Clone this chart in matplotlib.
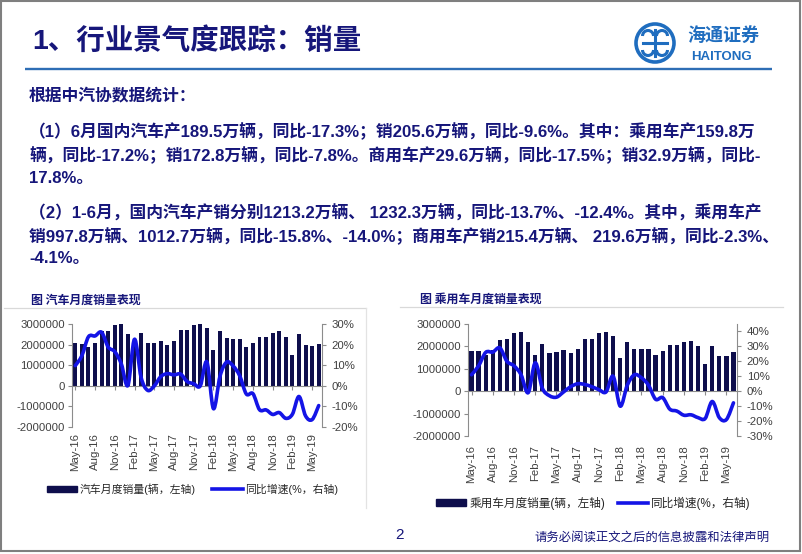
import matplotlib
matplotlib.use("Agg")
import matplotlib.pyplot as plt
from matplotlib.path import Path
from matplotlib.patches import PathPatch, Circle, Arc, Rectangle, Patch
from matplotlib.lines import Line2D
from matplotlib.ticker import FuncFormatter

# ---------------- data ----------------
months = ["May-16", "Jun-16", "Jul-16", "Aug-16", "Sep-16", "Oct-16", "Nov-16", "Dec-16",
          "Jan-17", "Feb-17", "Mar-17", "Apr-17", "May-17", "Jun-17", "Jul-17", "Aug-17",
          "Sep-17", "Oct-17", "Nov-17", "Dec-17", "Jan-18", "Feb-18", "Mar-18", "Apr-18",
          "May-18", "Jun-18", "Jul-18", "Aug-18", "Sep-18", "Oct-18", "Nov-18", "Dec-18",
          "Jan-19", "Feb-19", "Mar-19", "Apr-19", "May-19", "Jun-19"]

auto_sales = [2070000, 2050000, 1870000, 2070000, 2650000, 2650000, 2930000, 3000000,
              2520000, 1940000, 2550000, 2080000, 2100000, 2170000, 1970000, 2180000,
              2700000, 2700000, 2970000, 3000000, 2800000, 1720000, 2650000, 2300000,
              2280000, 2280000, 1900000, 2100000, 2380000, 2380000, 2550000, 2660000,
              2370000, 1480000, 2520000, 1980000, 1910000, 2050000]
auto_yoy = [0.098, 0.146, 0.238, 0.242, 0.260, 0.188, 0.166, 0.106,
            0.002, 0.226, 0.041, -0.022, -0.001, 0.045, 0.059, 0.053,
            0.057, 0.021, 0.010, 0.000, 0.116, -0.111, 0.047, 0.115,
            0.096, 0.048, -0.040, -0.038, -0.116, -0.117, -0.139, -0.130,
            -0.158, -0.138, -0.052, -0.146, -0.164, -0.096]

pv_sales = [1800000, 1800000, 1600000, 1830000, 2270000, 2350000, 2580000, 2650000,
            2200000, 1620000, 2100000, 1720000, 1750000, 1820000, 1690000, 1870000,
            2350000, 2350000, 2580000, 2650000, 2450000, 1480000, 2180000, 1900000,
            1900000, 1870000, 1600000, 1800000, 2060000, 2060000, 2180000, 2250000,
            2030000, 1200000, 2030000, 1580000, 1560000, 1730000]
pv_yoy = [0.110, 0.170, 0.260, 0.262, 0.290, 0.200, 0.170, 0.110,
          -0.010, 0.190, 0.020, -0.030, -0.040, -0.005, 0.030, 0.050,
          0.045, 0.030, 0.010, -0.005, 0.100, -0.100, 0.040, 0.110,
          0.090, 0.040, -0.054, -0.043, -0.120, -0.133, -0.161, -0.158,
          -0.177, -0.183, -0.069, -0.177, -0.190, -0.078]

tick_idx = list(range(0, 38, 3))
left_ticks = [-2000000, -1000000, 0, 1000000, 2000000, 3000000]
right_ticks1 = [-0.2, -0.1, 0.0, 0.1, 0.2, 0.3]
right_ticks2 = [-0.3, -0.2, -0.1, 0.0, 0.1, 0.2, 0.3, 0.4]

title = "1、行业景气度跟踪：销量"
body_lines = [
    "根据中汽协数据统计：",
    "（1）6月国内汽车产189.5万辆，同比-17.3%；销205.6万辆，同比-9.6%。其中：乘用车产159.8万",
    "辆，同比-17.2%；销172.8万辆，同比-7.8%。商用车产29.6万辆，同比-17.5%；销32.9万辆，同比-",
    "17.8%。",
    "（2）1-6月，国内汽车产销分别1213.2万辆、 1232.3万辆，同比-13.7%、-12.4%。其中，乘用车产",
    "销997.8万辆、1012.7万辆，同比-15.8%、-14.0%；商用车产销215.4万辆、 219.6万辆，同比-2.3%、",
    "-4.1%。",
]
body_y = [95, 131, 155, 178, 213, 236, 258]

W, H = 802, 554
CJK = ["Liberation Sans", "Noto Sans CJK SC"]
NAVY = "#16167a"
BAR = "#0e0e4c"
LINE = "#1414e6"
TICKC = "#404040"
AXC = "#8c8c8c"

fig = plt.figure(figsize=(W / 100, H / 100), dpi=100)
fig.patch.set_facecolor("white")

bg = fig.add_axes([0, 0, 1, 1], zorder=0)
bg.set_xlim(0, W)
bg.set_ylim(H, 0)
bg.axis("off")

# slide frame
bg.add_patch(Rectangle((1, 1), W - 3, H - 4, fill=False, edgecolor="#7f7f7f", lw=1.5))
# header
bg.text(32, 41, title, fontsize=20.5, fontweight="bold", color=NAVY, family=CJK,
        va="center", ha="left")
bg.plot([25, 772], [69, 69], color="#2e6eb5", lw=1.7, solid_capstyle="butt")

# logo
lc = "#1f6dbf"
bg.add_patch(Circle((655, 43), 19, fill=False, edgecolor=lc, lw=2.6))
for (cx, cy, t1, t2) in [(648, 36, 180, 360), (662, 36, 180, 360),
                         (648, 50, 0, 180), (662, 50, 0, 180)]:
    bg.add_patch(Arc((cx, cy), 11, 11, theta1=t1, theta2=t2, edgecolor=lc, lw=2.2))
bg.plot([655, 655], [30, 56], color=lc, lw=2.2)
bg.plot([643, 667], [43, 43], color=lc, lw=2.2)
bg.text(723, 35, "海通证券", fontsize=13, fontweight="bold", color=lc,
        family=["Noto Sans CJK SC"], ha="center", va="center")
bg.text(722, 57, "HAITONG", fontsize=9.5, fontweight="bold", color=lc,
        family=["Liberation Sans"], ha="center", va="center")

# body text
for s, y in zip(body_lines, body_y):
    bg.text(29, y, s, fontsize=12.1, fontweight="bold", color=NAVY, family=CJK,
            ha="left", va="center")

# chart titles and frames
bg.text(31, 300, "图 汽车月度销量表现", fontsize=8.6, fontweight="bold", color=NAVY,
        family=["Noto Sans CJK SC"], ha="left", va="center")
bg.text(420, 299, "图 乘用车月度销量表现", fontsize=8.6, fontweight="bold", color=NAVY,
        family=["Noto Sans CJK SC"], ha="left", va="center")
bg.plot([4, 366], [308, 308], color="#d9d9d9", lw=0.9)
bg.plot([366, 366], [308, 508], color="#e3e3e3", lw=0.9)
bg.plot([400, 783], [307, 307], color="#d9d9d9", lw=0.9)

# footer
bg.text(400, 535, "2", fontsize=11, color=NAVY, family=["Liberation Sans"],
        ha="center", va="center")
bg.text(534, 537, "请务必阅读正文之后的信息披露和法律声明", fontsize=8.9, color=NAVY,
        family=["Noto Sans CJK SC"], ha="left", va="center")


def smooth_patch(xs, ys, color, lw):
    n = len(xs)
    verts = [(xs[0], ys[0])]
    codes = [Path.MOVETO]
    for i in range(n - 1):
        a = i - 1 if i > 0 else i
        d = i + 2 if i + 2 < n else i + 1
        c1 = (xs[i] + (xs[i + 1] - xs[a]) / 6.0, ys[i] + (ys[i + 1] - ys[a]) / 6.0)
        c2 = (xs[i + 1] - (xs[d] - xs[i]) / 6.0, ys[i + 1] - (ys[d] - ys[i]) / 6.0)
        verts += [c1, c2, (xs[i + 1], ys[i + 1])]
        codes += [Path.CURVE4] * 3
    return PathPatch(Path(verts, codes), fill=False, edgecolor=color, lw=lw,
                     capstyle="round", joinstyle="round")


def make_chart(rect, sales, yoy, rlim, rticks, pad_pt, leg_label, leg_anchor, col_sp,
               leg_size):
    ax = fig.add_axes(rect, zorder=2)
    ax.set_facecolor("none")
    x = list(range(len(sales)))
    ax.bar(x, sales, width=0.6, color=BAR, zorder=2)
    ax.set_xlim(-0.5, len(sales) - 0.5)
    ax.set_ylim(-2000000, 3000000)
    ax.set_yticks(left_ticks)
    ax.yaxis.set_major_formatter(FuncFormatter(lambda v, p: "%d" % v))
    ax.set_xticks(tick_idx)
    ax.set_xticklabels([months[i] for i in tick_idx])
    for s in ["top", "right"]:
        ax.spines[s].set_visible(False)
    ax.spines["bottom"].set_position(("data", 0))
    ax.spines["bottom"].set_color(AXC)
    ax.spines["left"].set_color(AXC)
    ax.spines["bottom"].set_linewidth(0.8)
    ax.spines["left"].set_linewidth(0.8)
    ax.tick_params(axis="x", length=3, color=AXC, pad=pad_pt, labelsize=8.2,
                   labelcolor=TICKC, labelrotation=90)
    ax.tick_params(axis="y", length=3, color=AXC, labelsize=8.2, labelcolor=TICKC, pad=2)
    for lab in ax.get_xticklabels() + ax.get_yticklabels():
        lab.set_family("Liberation Sans")

    axr = ax.twinx()
    axr.set_zorder(3)
    axr.set_facecolor("none")
    axr.set_ylim(*rlim)
    axr.set_yticks(rticks)
    axr.yaxis.set_major_formatter(FuncFormatter(lambda v, p: "%d%%" % round(v * 100)))
    for s in ["top", "left", "bottom"]:
        axr.spines[s].set_visible(False)
    axr.spines["right"].set_color(AXC)
    axr.spines["right"].set_linewidth(0.8)
    axr.tick_params(axis="y", length=3, color=AXC, labelsize=8.2, labelcolor=TICKC, pad=4)
    for lab in axr.get_yticklabels():
        lab.set_family("Liberation Sans")
    axr.add_patch(smooth_patch(x, yoy, LINE, 2.6))

    handles = [Patch(facecolor=BAR, edgecolor=BAR),
               Line2D([0], [0], color=LINE, lw=2.6)]
    leg = fig.legend(handles, [leg_label, "同比增速(%，右轴)"], ncol=2, frameon=False,
                     loc="center left", bbox_to_anchor=leg_anchor,
                     prop={"family": ["Liberation Sans", "Noto Sans CJK SC"], "size": leg_size},
                     handlelength=2.6 * 8.4 / leg_size, handleheight=0.55,
                     handletextpad=0.25, columnspacing=col_sp, borderaxespad=0,
                     borderpad=0)
    for t in leg.get_texts():
        t.set_color("#262626")
    return ax, axr


make_chart([72 / W, 1 - 427 / H, 250 / W, 103 / H], auto_sales, auto_yoy,
           (-0.2, 0.3), right_ticks1, 31, "汽车月度销量(辆，左轴)",
           (47 / W, 1 - 489 / H), 1.5, 7.8)
make_chart([468 / W, 1 - 436 / H, 269 / W, 112 / H], pv_sales, pv_yoy,
           (-0.3, 0.45), right_ticks2, 36, "乘用车月度销量(辆，左轴)",
           (436 / W, 1 - 503 / H), 1.1, 8.4)

fig.savefig("out.png", dpi=100, facecolor="white")
